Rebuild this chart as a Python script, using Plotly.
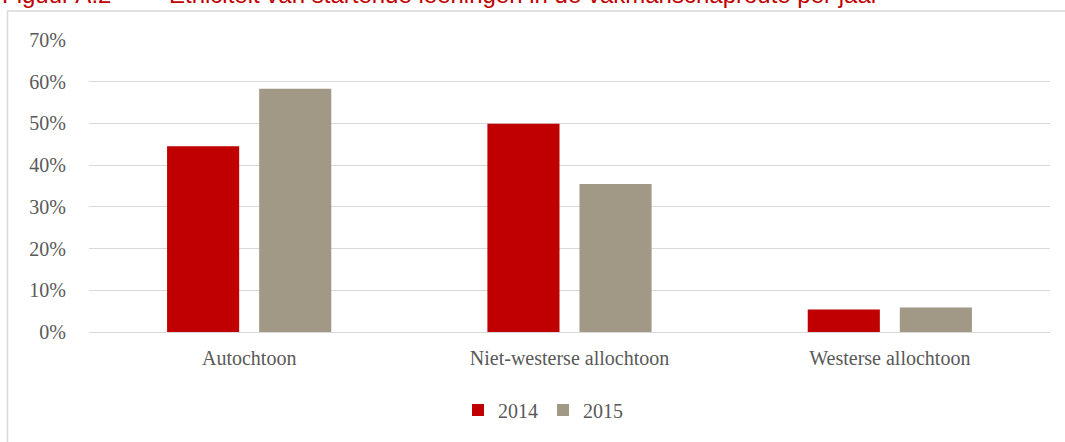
import plotly.graph_objects as go

categories = ["Autochtoon", "Niet-westerse allochtoon", "Westerse allochtoon"]
values_2014 = [0.445, 0.499, 0.054]
values_2015 = [0.583, 0.355, 0.059]
series_names = ["2014", "2015"]
colors = ["#C00000", "#A29886"]
title_label = "Figuur A.2"
title_text = "Etniciteit van startende leerlingen in de vakmanschaproute per jaar"

W, H = 1065, 442
L, R, T, B = 89, 15, 40, 110
pw, ph = W - L - R, H - T - B

def px_to_paper_x(x):
    return (x - L) / pw

def px_to_paper_y(y):
    return (H - B - y) / ph

fig = go.Figure()
for name, vals, col in zip(series_names, [values_2014, values_2015], colors):
    fig.add_trace(go.Bar(
        x=categories, y=vals, name=name,
        marker=dict(color=col, line=dict(width=0)),
    ))

title_font = dict(family="Liberation Sans", size=24, color="#C00000")

fig.update_layout(
    width=W, height=H,
    margin=dict(l=L, r=R, t=T, b=B),
    paper_bgcolor="white", plot_bgcolor="white",
    barmode="group", bargap=0.425, bargroupgap=0.217,
    font=dict(family="Liberation Serif", color="#595959", size=20),
    showlegend=True,
    legend=dict(orientation="h", x=px_to_paper_x(543), xanchor="center",
                y=px_to_paper_y(410), yanchor="middle",
                font=dict(size=20, family="Liberation Serif", color="#595959"),
                itemwidth=30, tracegroupgap=0),
    xaxis=dict(showgrid=False, showline=False, ticks="",
               ticklabelstandoff=12, tickfont=dict(size=20)),
    yaxis=dict(range=[0, 0.7], dtick=0.1, tickformat=".0%",
               showgrid=True, gridcolor="#d9d9d9", gridwidth=1,
               zeroline=True, zerolinecolor="#d9d9d9", zerolinewidth=1,
               showline=False, ticks="", ticklabelstandoff=22,
               tickfont=dict(size=20)),
    shapes=[dict(type="rect", xref="paper", yref="paper",
                 x0=px_to_paper_x(7.5), x1=px_to_paper_x(1080),
                 y0=px_to_paper_y(460), y1=px_to_paper_y(11),
                 line=dict(color="#d9d9d9", width=1.5), layer="below")],
    annotations=[
        dict(text=title_label, xref="paper", yref="paper",
             x=px_to_paper_x(0), xanchor="left",
             y=px_to_paper_y(9.5), yanchor="bottom",
             showarrow=False, font=title_font),
        dict(text=title_text, xref="paper", yref="paper",
             x=px_to_paper_x(167), xanchor="left",
             y=px_to_paper_y(9.5), yanchor="bottom",
             showarrow=False, font=title_font),
    ],
)

fig.write_html("out.html", config={"displayModeBar": False},
               post_script="document.body.style.margin='0';")
